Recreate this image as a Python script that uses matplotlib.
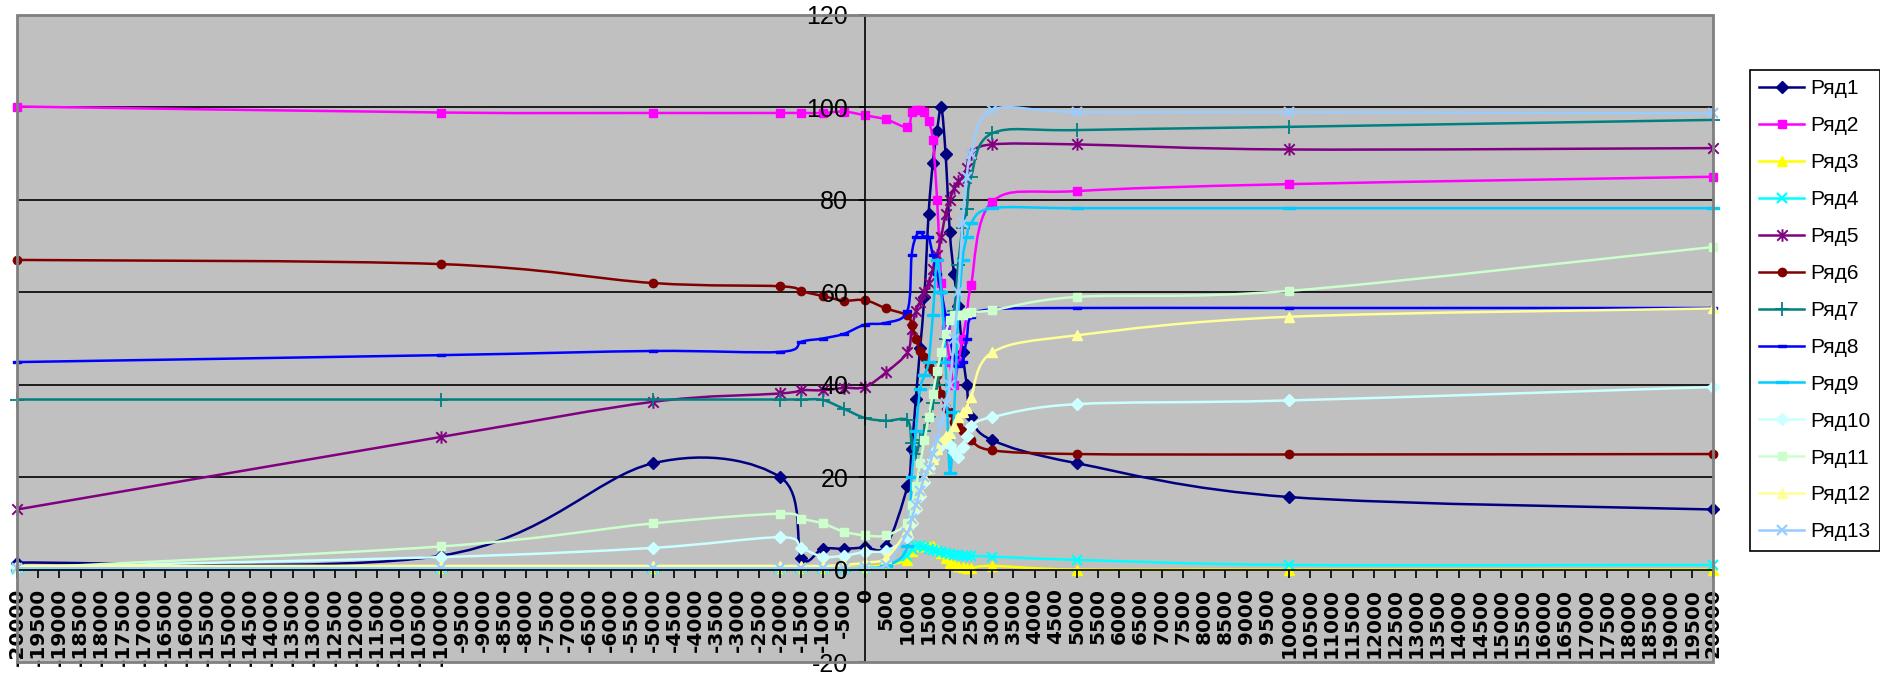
import numpy as np
import matplotlib
matplotlib.use("Agg")
import matplotlib.pyplot as plt
from matplotlib.path import Path
from matplotlib.patches import PathPatch, Rectangle
from matplotlib.lines import Line2D

plt.rcParams['axes.unicode_minus'] = False

# ---------------- data ----------------
X = [-20000, -10000, -5000, -2000, -1500, -1000, -500, 0, 500,
     1000, 1100, 1200, 1300, 1400, 1500, 1600, 1700, 1800, 1900, 2000,
     2100, 2200, 2300, 2400, 2500, 3000, 5000, 10000, 20000]

s1 = [1.5, 3, 23, 20, 2.6, 4.5, 4.5, 4.8, 5.2, 18, 26, 37, 48, 59, 77, 88, 95, 100, 90, 73,
      64, 57, 47, 40, 33, 28, 23, 15.7, 13]
s2 = [100.2, 98.9, 98.8, 98.8, 98.8, 98.8, 99.1, 98.3, 97.4, 95.8, 99, 99.5, 99.5, 99, 97, 93, 80, 62, 52, 45,
      40, 45, 50, 55, 61.5, 79.6, 81.9, 83.4, 85]
s3 = [0.5, 0.3, 0.4, 0.4, 0.4, 0.4, 0.5, 0.6, 1, 2, 4, 5, 5.2, 5.2, 5, 5, 4.5, 3.5, 2.5, 1.5,
      1, 0.8, 0.6, 0.4, 0.3, 0.8, 0, 0, 0]
s4 = [0.2, 0.2, 0.2, 0.2, 0.2, 0.2, 0.2, 0.3, 0.8, 3, 4.5, 5, 5, 4.8, 4.5, 4.2, 4, 3.8, 3.6, 3.4,
      3.2, 3.1, 3, 3, 3, 2.8, 2.1, 1, 1]
s5 = [13, 28.7, 36.3, 38.1, 38.8, 38.8, 39.3, 39.5, 42.7, 47, 52, 56, 58, 60, 62, 65, 68, 72, 77, 80,
      82.5, 84, 85, 87, 90, 92, 92, 90.9, 91.2]
s6 = [67, 66.1, 62, 61.3, 60.2, 59.2, 58.2, 58.3, 56.5, 55, 53, 50, 47.4, 46, 44, 43, 42, 38, 35, 34,
      32, 31, 30, 29, 28, 25.8, 25, 24.9, 25]
s7 = [36.8, 36.8, 36.8, 36.8, 36.8, 36.7, 34.8, 32.8, 32.2, 32.3, 27.3, 25, 28, 30, 33, 36, 40, 45, 50, 54,
      56, 66, 74, 78, 85, 94.4, 95.1, 95.8, 97.3]
s8 = [44.9, 46.4, 47.3, 47.1, 49.3, 50, 51, 53, 53.4, 56, 68, 72, 73, 72, 72, 68, 64, 60, 55, 50,
      46, 44, 45, 50, 54.7, 56.3, 56.6, 56.6, 56.6]
s9 = [0, 0, 0, 0, 0, 0, 0, 0.3, 0.8, 5, 20, 30, 39, 42, 45, 55, 67, 60, 45, 21,
      34, 55, 67, 72, 75, 78.2, 78.2, 78.2, 78.2]
s10 = [0.5, 2.7, 4.7, 7, 4.7, 2.8, 3, 3.8, 4.1, 7, 10, 13, 16, 19, 22, 24, 26, 27, 27.5, 27,
       25.5, 24.3, 26.5, 29, 31, 33, 35.8, 36.6, 39.5]
s11 = [0.3, 5, 10, 12.1, 11, 10, 8.2, 7.4, 7.4, 10, 14, 18, 23, 28, 33, 38, 43, 47, 51, 54,
       55, 55, 55, 55.5, 55.8, 56.1, 59, 60.3, 69.8]
s12 = [0.8, 0.8, 0.8, 0.8, 0.8, 0.8, 1, 1.5, 2.5, 8.5, 11, 14, 17, 20, 22, 24, 26, 28, 29, 29.5,
       31, 33, 34, 35, 37.3, 47, 50.7, 54.7, 56.5]
s13 = [0.3, 0.3, 0.3, 0.3, 0.3, 0.3, 0.3, 0.5, 1, 8, 11, 14, 17, 20, 22, 25, 28, 32, 36, 40,
       50, 60, 75, 85, 90, 99.5, 99, 99, 98.7]

series = [s1, s2, s3, s4, s5, s6, s7, s8, s9, s10, s11, s12, s13]
names = ["Ряд1", "Ряд2", "Ряд3", "Ряд4", "Ряд5", "Ряд6", "Ряд7",
         "Ряд8", "Ряд9", "Ряд10", "Ряд11", "Ряд12", "Ряд13"]

x_ticks = list(range(-20000, 20001, 500))
x_tick_labels = [str(v) for v in x_ticks]
y_ticks = [-20, 0, 20, 40, 60, 80, 100, 120]
y_tick_labels = [str(v) for v in y_ticks]

# ---------------- styles ----------------
colors = ['#000080', '#FF00FF', '#FFFF00', '#00FFFF', '#800080', '#800000', '#008080',
          '#0000FF', '#00CCFF', '#CCFFFF', '#CCFFCC', '#FFFF99', '#99CCFF']

star = Path([(-1, -1), (1, 1), (-1, 1), (1, -1), (0, -1.2), (0, 1.2)],
            [Path.MOVETO, Path.LINETO, Path.MOVETO, Path.LINETO, Path.MOVETO, Path.LINETO])
dash_s = Path([(-1, -0.3), (1, -0.3), (1, 0.3), (-1, 0.3), (-1, -0.3)],
              [Path.MOVETO, Path.LINETO, Path.LINETO, Path.LINETO, Path.CLOSEPOLY])
dash_l = Path([(-1, -0.22), (1, -0.22), (1, 0.22), (-1, 0.22), (-1, -0.22)],
              [Path.MOVETO, Path.LINETO, Path.LINETO, Path.LINETO, Path.CLOSEPOLY])

markers = [
    dict(marker='D', ms=6),
    dict(marker='s', ms=6),
    dict(marker='^', ms=7),
    dict(marker='x', ms=7, mew=1.6),
    dict(marker=star, ms=9, mew=1.4),
    dict(marker='o', ms=6),
    dict(marker='+', ms=10, mew=1.3),
    dict(marker=dash_s, ms=6),
    dict(marker=dash_l, ms=9),
    dict(marker='D', ms=6),
    dict(marker='s', ms=6),
    dict(marker='^', ms=7),
    dict(marker='x', ms=7, mew=1.6),
]


def smooth_path(xs, ys):
    P = np.column_stack([xs, ys]).astype(float)
    n = len(P)
    verts = [P[0]]
    codes = [Path.MOVETO]
    for i in range(n - 1):
        p0 = P[i - 1] if i > 0 else P[i]
        p1 = P[i]
        p2 = P[i + 1]
        p3 = P[i + 2] if i + 2 < n else P[i + 1]
        c1 = p1 + (p2 - p0) / 6.0
        c2 = p2 - (p3 - p1) / 6.0
        verts += [c1, c2, p2]
        codes += [Path.CURVE4] * 3
    return Path(verts, codes)


# ---------------- figure ----------------
W, H = 1880, 683
fig = plt.figure(figsize=(W / 100, H / 100), dpi=100)
fig.patch.set_facecolor('white')
left_px, right_px, top_px, bot_px = 17, 1713, 15, 662
ax = fig.add_axes([left_px / W, (H - bot_px) / H, (right_px - left_px) / W, (bot_px - top_px) / H])
ax.set_facecolor('#C0C0C0')
ax.set_xlim(-20000, 20000)
ax.set_ylim(-20, 120)

for gy in [20, 40, 60, 80, 100]:
    ax.axhline(gy, color='black', lw=1.2, zorder=1)

LW = 1.8
for i, (ys, c, mk) in enumerate(zip(series, colors, markers)):
    z = 2 + i * 0.01
    ax.add_patch(PathPatch(smooth_path(X, ys), fill=False, edgecolor=c, lw=LW,
                           joinstyle='round', capstyle='round', zorder=z))
    kw = dict(mk)
    m = kw.pop('marker')
    ms = kw.pop('ms')
    mew = kw.pop('mew', 1.0)
    ax.plot(X, ys, linestyle='none', marker=m, markersize=ms, color=c,
            markerfacecolor=c, markeredgecolor=c, markeredgewidth=mew,
            zorder=z + 0.005, clip_on=False)

# axes lines crossing at zero
for side in ['top', 'right']:
    ax.spines[side].set_visible(False)
ax.spines['left'].set_position(('data', 0))
ax.spines['bottom'].set_position(('data', 0))
ax.spines['left'].set_color('black')
ax.spines['bottom'].set_color('black')
ax.spines['left'].set_linewidth(1.2)
ax.spines['bottom'].set_linewidth(1.2)

ax.set_xticks(x_ticks)
ax.set_xticklabels(x_tick_labels, rotation=90, fontfamily='DejaVu Sans',
                   fontweight='bold', fontsize=14.5)
ax.set_yticks(y_ticks)
ax.set_yticklabels(y_tick_labels, fontfamily=['Liberation Sans Narrow', 'Liberation Sans', 'DejaVu Sans'],
                   fontsize=18)
ax.tick_params(axis='x', direction='out', length=6, width=1.2, pad=7, colors='black')
ax.tick_params(axis='y', direction='out', length=4, width=1.2, pad=8, colors='black')
ax.set_axisbelow(False)

ax.add_patch(Rectangle((0, 0), 1, 1, transform=ax.transAxes, fill=False,
                       edgecolor='#808080', lw=2, zorder=5, clip_on=False))

# ---------------- legend ----------------
handles = []
for c, mk in zip(colors, markers):
    kw = dict(mk)
    m = kw.pop('marker')
    ms = kw.pop('ms')
    mew = kw.pop('mew', 1.0)
    handles.append(Line2D([], [], color=c, lw=LW, marker=m, markersize=ms,
                          markerfacecolor=c, markeredgecolor=c, markeredgewidth=mew))
leg = fig.legend(handles, names, loc='upper left', bbox_to_anchor=(1750 / W, 1 - 70 / H),
                 frameon=True, fancybox=False, edgecolor='black', framealpha=1,
                 borderaxespad=0, borderpad=0.45, handlelength=2.16, handletextpad=0.3,
                 labelspacing=0.86, numpoints=1,
                 prop=dict(family=['Liberation Sans Narrow', 'Liberation Sans', 'DejaVu Sans'], size=15))
leg.get_frame().set_linewidth(1.2)

fig.savefig('out.png', dpi=100, facecolor='white')
